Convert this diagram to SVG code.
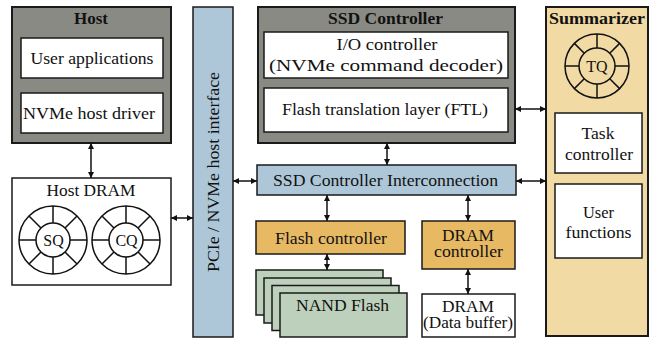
<svg xmlns="http://www.w3.org/2000/svg" width="657" height="339" viewBox="0 0 657 339" font-family="'Liberation Serif', 'DejaVu Serif', serif">
  <style>
    text { font-family: "Liberation Serif", "DejaVu Serif", serif; font-size: 16px; fill: #111; text-anchor: middle; }
    .title { font-weight: bold; }
    .outer { stroke: #1a1a1a; stroke-width: 2; }
    .box { stroke: #1a1a1a; stroke-width: 1.5; }
    .gray { fill: #8a8a84; }
    .white { fill: #ffffff; }
    .blue { fill: #aec7d8; }
    .orange { fill: #e8b963; }
    .sand { fill: #f2daa5; }
    .green { fill: #bdd0bb; }
    .ring { fill: none; stroke: #111; stroke-width: 1.5; }
    .conn { stroke: #111; stroke-width: 1.5; fill: none; marker-start: url(#head); marker-end: url(#head); }
  </style>
  <defs>
    <marker id="head" viewBox="0 0 10 10" refX="10" refY="5" markerWidth="6" markerHeight="6" markerUnits="userSpaceOnUse" orient="auto-start-reverse">
      <path d="M0,0 L10,5 L0,10 z" fill="#111"/>
    </marker>
    <!-- circular queue: outer ring, inner ring and eight spokes -->
    <g id="queue34">
      <circle r="34" class="ring"/>
      <circle r="17" class="ring"/>
      <g class="ring">
        <line x1="17" y1="0" x2="34" y2="0"/>
        <line x1="-17" y1="0" x2="-34" y2="0"/>
        <line x1="0" y1="17" x2="0" y2="34"/>
        <line x1="0" y1="-17" x2="0" y2="-34"/>
        <line x1="12.02" y1="12.02" x2="24.04" y2="24.04"/>
        <line x1="-12.02" y1="12.02" x2="-24.04" y2="24.04"/>
        <line x1="12.02" y1="-12.02" x2="24.04" y2="-24.04"/>
        <line x1="-12.02" y1="-12.02" x2="-24.04" y2="-24.04"/>
      </g>
    </g>
    <g id="queue32">
      <circle r="32" class="ring"/>
      <circle r="18" class="ring"/>
      <g class="ring">
        <line x1="18" y1="0" x2="32" y2="0"/>
        <line x1="-18" y1="0" x2="-32" y2="0"/>
        <line x1="0" y1="18" x2="0" y2="32"/>
        <line x1="0" y1="-18" x2="0" y2="-32"/>
        <line x1="12.73" y1="12.73" x2="22.63" y2="22.63"/>
        <line x1="-12.73" y1="12.73" x2="-22.63" y2="22.63"/>
        <line x1="12.73" y1="-12.73" x2="22.63" y2="-22.63"/>
        <line x1="-12.73" y1="-12.73" x2="-22.63" y2="-22.63"/>
      </g>
    </g>
  </defs>

  <!-- Host -->
  <g id="host">
    <rect x="12" y="7" width="159" height="136" class="outer gray"/>
    <text x="91" y="24" class="title" textLength="34" lengthAdjust="spacingAndGlyphs">Host</text>
    <rect x="21" y="38" width="142" height="40" class="box white"/>
    <text x="92" y="64" textLength="123" lengthAdjust="spacingAndGlyphs">User applications</text>
    <rect x="21" y="93" width="142" height="40" class="box white"/>
    <text x="89" y="119" textLength="132" lengthAdjust="spacingAndGlyphs">NVMe host driver</text>
  </g>

  <!-- Host DRAM with submission / completion queues -->
  <g id="host-dram">
    <rect x="12" y="178" width="159" height="107" class="box white"/>
    <text x="91" y="196" textLength="89" lengthAdjust="spacingAndGlyphs">Host DRAM</text>
    <use href="#queue34" x="53" y="240"/>
    <text x="53.5" y="245.5">SQ</text>
    <use href="#queue34" x="126" y="240"/>
    <text x="126.5" y="245.5">CQ</text>
  </g>

  <!-- PCIe / NVMe host interface -->
  <g id="pcie">
    <rect x="193" y="7" width="40" height="330" class="box blue"/>
    <text transform="translate(219,172) rotate(-90)" textLength="200" lengthAdjust="spacingAndGlyphs">PCIe / NVMe host interface</text>
  </g>

  <!-- SSD Controller -->
  <g id="ssd-controller">
    <rect x="258" y="7" width="257" height="136" class="outer gray"/>
    <text x="385.5" y="24" class="title" textLength="115" lengthAdjust="spacingAndGlyphs">SSD Controller</text>
    <rect x="264" y="32" width="244" height="46" class="box white"/>
    <text x="387" y="50" textLength="101" lengthAdjust="spacingAndGlyphs">I/O controller</text>
    <text x="386" y="71" style="font-size:17px" textLength="234" lengthAdjust="spacingAndGlyphs">(NVMe command decoder)</text>
    <rect x="264" y="88" width="244" height="44" class="box white"/>
    <text x="385" y="115" textLength="206" lengthAdjust="spacingAndGlyphs">Flash translation layer (FTL)</text>
  </g>

  <!-- Interconnection -->
  <g id="interconnect">
    <rect x="257" y="165" width="259" height="30" class="box blue"/>
    <text x="385.5" y="186" textLength="225" lengthAdjust="spacingAndGlyphs">SSD Controller Interconnection</text>
  </g>

  <!-- Flash controller -->
  <g id="flash-controller">
    <rect x="256" y="221" width="149" height="33" class="box orange"/>
    <text x="331" y="243.5" textLength="112" lengthAdjust="spacingAndGlyphs">Flash controller</text>
  </g>

  <!-- NAND Flash stack -->
  <g id="nand">
    <rect x="256" y="270" width="127" height="45" class="box green"/>
    <rect x="264" y="278" width="127" height="45" class="box green"/>
    <rect x="272" y="285.5" width="127" height="45" class="box green"/>
    <rect x="280" y="293" width="127" height="44" class="box green"/>
    <text x="342.5" y="311" textLength="93" lengthAdjust="spacingAndGlyphs">NAND Flash</text>
  </g>

  <!-- DRAM controller -->
  <g id="dram-controller">
    <rect x="422" y="221" width="93" height="48" class="box orange"/>
    <text x="468" y="241" textLength="52" lengthAdjust="spacingAndGlyphs">DRAM</text>
    <text x="468.5" y="257" textLength="69" lengthAdjust="spacingAndGlyphs">controller</text>
  </g>

  <!-- DRAM data buffer -->
  <g id="dram">
    <rect x="422" y="294" width="93" height="43" class="box white"/>
    <text x="468" y="311.5" textLength="52" lengthAdjust="spacingAndGlyphs">DRAM</text>
    <text x="468" y="328" textLength="90" lengthAdjust="spacingAndGlyphs">(Data buffer)</text>
  </g>

  <!-- Summarizer -->
  <g id="summarizer">
    <rect x="546" y="7" width="102" height="329" class="outer sand"/>
    <text x="597" y="24" class="title" textLength="96" lengthAdjust="spacingAndGlyphs">Summarizer</text>
    <use href="#queue32" x="597" y="66"/>
    <text x="597" y="71.5">TQ</text>
    <rect x="555" y="113" width="87" height="60" class="box white"/>
    <text x="598" y="139" textLength="33" lengthAdjust="spacingAndGlyphs">Task</text>
    <text x="599" y="160" textLength="68" lengthAdjust="spacingAndGlyphs">controller</text>
    <rect x="555" y="184" width="87" height="74" class="box white"/>
    <text x="598.5" y="218" textLength="31" lengthAdjust="spacingAndGlyphs">User</text>
    <text x="598.5" y="238" textLength="66" lengthAdjust="spacingAndGlyphs">functions</text>
  </g>

  <!-- connectors -->
  <g id="connectors">
    <line x1="91" y1="143" x2="91" y2="178" class="conn"/>
    <line x1="171" y1="218" x2="193" y2="218" class="conn"/>
    <line x1="233" y1="181" x2="257" y2="181" class="conn"/>
    <line x1="387" y1="143" x2="387" y2="165" class="conn"/>
    <line x1="516" y1="181" x2="546" y2="181" class="conn"/>
    <line x1="515" y1="109" x2="546" y2="109" class="conn"/>
    <line x1="327" y1="195" x2="327" y2="221" class="conn"/>
    <line x1="327" y1="254" x2="327" y2="270" class="conn"/>
    <line x1="468" y1="195" x2="468" y2="221" class="conn"/>
    <line x1="468" y1="269" x2="468" y2="294" class="conn"/>
  </g>
</svg>
